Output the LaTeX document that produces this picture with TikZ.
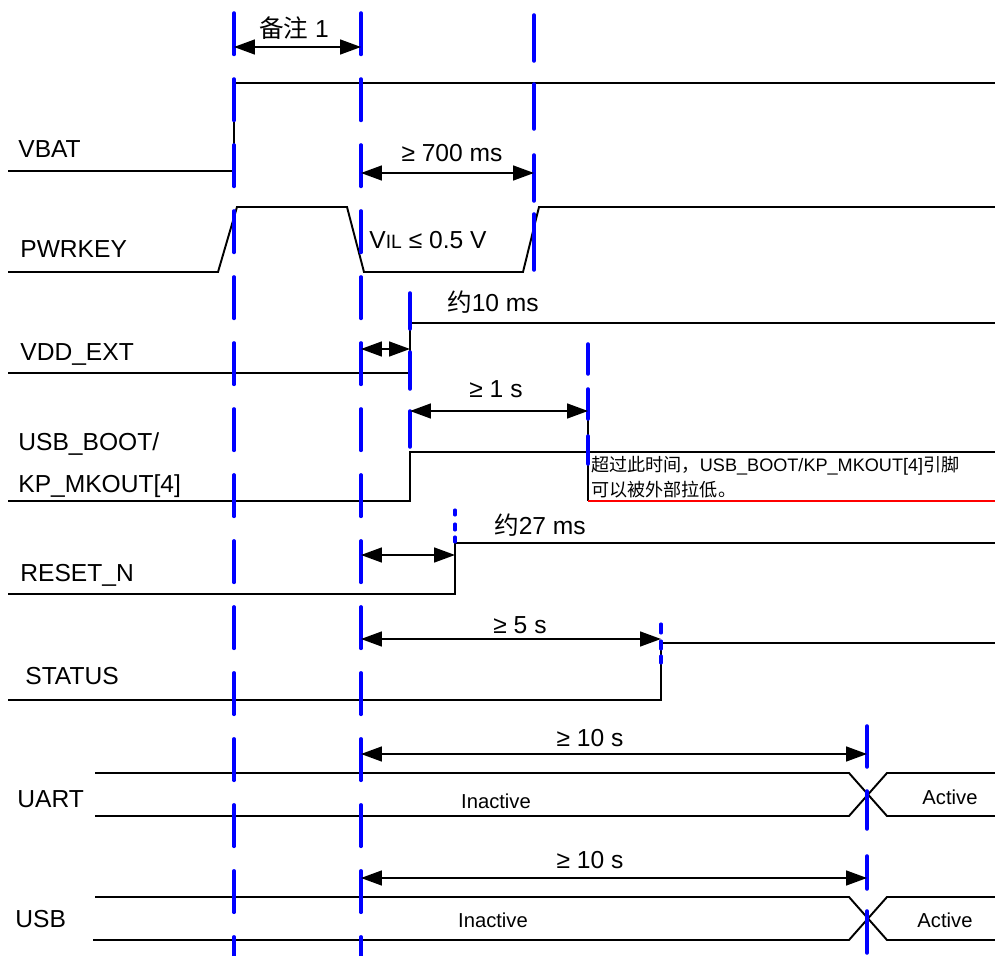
\documentclass[tikz,border=0pt]{standalone}
\usepackage{fontspec}
\setmainfont{Liberation Sans}
\newfontfamily\cjk{Noto Sans CJK SC}
\usetikzlibrary{arrows.meta}

\begin{document}
\begin{tikzpicture}[
    x=0.02cm, y=-0.02cm,
    >={Triangle[length=0.42cm, width=0.3cm]},
    sig/.style={line width=1.1pt},
    guide/.style={blue, line width=2pt, line cap=round},
    guidedash/.style={guide, dash pattern=on 0.83cm off 0.49cm},
    tick/.style={guide, line width=1.8pt},
    dimarrow/.style={<->, line width=0.9pt},
    siglabel/.style={anchor=base west, inner sep=0pt, font=\fontsize{14}{17}\selectfont},
    dimlabel/.style={inner sep=0pt, font=\fontsize{14}{17}\selectfont},
    statelabel/.style={inner sep=0pt, font=\fontsize{11.5}{13}\selectfont},
    note/.style={anchor=west, inner sep=0pt, font=\fontsize{10.3}{12}\selectfont},
  ]
  \useasboundingbox (0,0) rectangle (995,956);

  % ===== Signal names =====
  \node[siglabel] (vbat)   at (18,158) {VBAT};
  \node[siglabel] (pwrkey) at (20,258) {PWRKEY};
  \node[siglabel] (vddext) at (20,361) {VDD\_EXT};
  \node[siglabel] (usbboot) at (18,451) {USB\_BOOT/};
  \node[siglabel] (kpmkout) at (18,493) {KP\_MKOUT[4]};
  \node[siglabel] (resetn) at (20,582) {RESET\_N};
  \node[siglabel] (status) at (25,684) {STATUS};
  \node[siglabel] (uart)   at (17,807) {UART};
  \node[siglabel] (usb)    at (15,927) {USB};

  % ===== Waveforms =====
  \draw[sig] (8,171) -- (234,171) -- (234,83) -- (995,83);
  \draw[sig] (8,272) -- (218,272) -- (237,207) -- (347,207)
    -- (364,272) -- (523,272) -- (539,207) -- (995,207);
  \draw[sig] (8,373) -- (410,373) -- (410,323) -- (995,323);
  \draw[sig] (8,501) -- (410,501) -- (410,452) -- (995,452);
  \draw[sig] (8,594) -- (455,594) -- (455,543) -- (995,543);
  \draw[sig] (8,700) -- (661,700) -- (661,643) -- (995,643);

  % bus signals
  \draw[sig] (95,773) -- (849,773) -- (887,816) -- (995,816);
  \draw[sig] (95,816) -- (849,816) -- (887,773) -- (995,773);
  \draw[sig] (95,897) -- (849,897) -- (887,940) -- (995,940);
  \draw[sig] (93,940) -- (849,940) -- (887,897) -- (995,897);
  \node[statelabel] (uartoff) at (496,801) {Inactive};
  \node[statelabel] (uarton)  at (950,797) {Active};
  \node[statelabel] (usboff)  at (493,920) {Inactive};
  \node[statelabel] (usbon)   at (945,920) {Active};

  % ===== Note on USB_BOOT =====
  \draw[line width=0.8pt] (588,411) -- (588,501);
  \draw[red, line width=1.1pt] (588,501) -- (995,501);
  \node[note] (note1) at (591,466)
    {{\cjk 超过此时间，}USB\_BOOT/KP\_MKOUT[4]{\cjk 引脚}};
  \node[note] (note2) at (591,490) {{\cjk 可以被外部拉低。}};

  % ===== Timing guides =====
  \draw[guidedash] (234,13) -- (234,956);
  \draw[guidedash] (361,13) -- (361,956);
  \foreach \a/\b in {15/61, 84/129, 155/201, 214/270}
    \draw[guide] (534,\a) -- (534,\b);
  \foreach \a/\b in {293/329, 352/389, 411/447}
    \draw[guide] (410,\a) -- (410,\b);
  \foreach \a/\b in {344/374, 389/419, 436/464}
    \draw[guide] (588,\a) -- (588,\b);
  \foreach \a/\b in {510/515, 524/530, 537/542}
    \draw[tick] (455,\a) -- (455,\b);
  \foreach \a/\b in {624/633, 641/649, 656/663}
    \draw[tick] (661,\a) -- (661,\b);
  \foreach \a/\b in {726/767, 791/829, 856/889, 911/953}
    \draw[guide] (867,\a) -- (867,\b);

  % ===== Durations =====
  \draw[dimarrow] (234,47) -- (361,47);
  \node[dimlabel] (tnote) at (294,28) {{\cjk 备注} 1};

  \draw[dimarrow] (361,173) -- (534,173);
  \node[dimlabel] (t700) at (452,153) {≥ 700 ms};
  \node[dimlabel] (vil) at (428,240)
    {V{\fontsize{11}{13}\selectfont IL} ≤ 0.5 V};

  \draw[dimarrow] (361,349) -- (410,349);
  \node[dimlabel] (t10) at (493,302) {{\cjk 约}10 ms};

  \draw[dimarrow] (410,411) -- (588,411);
  \node[dimlabel] (t1s) at (496,389) {≥ 1 s};

  \draw[dimarrow] (361,555) -- (455,555);
  \node[dimlabel] (t27) at (540,525) {{\cjk 约}27 ms};

  \draw[dimarrow] (361,639) -- (661,639);
  \node[dimlabel] (t5s) at (520,625) {≥ 5 s};

  \draw[dimarrow] (361,754) -- (867,754);
  \node[dimlabel] (t10a) at (590,738) {≥ 10 s};

  \draw[dimarrow] (361,878) -- (867,878);
  \node[dimlabel] (t10b) at (590,860) {≥ 10 s};

\end{tikzpicture}
\end{document}
